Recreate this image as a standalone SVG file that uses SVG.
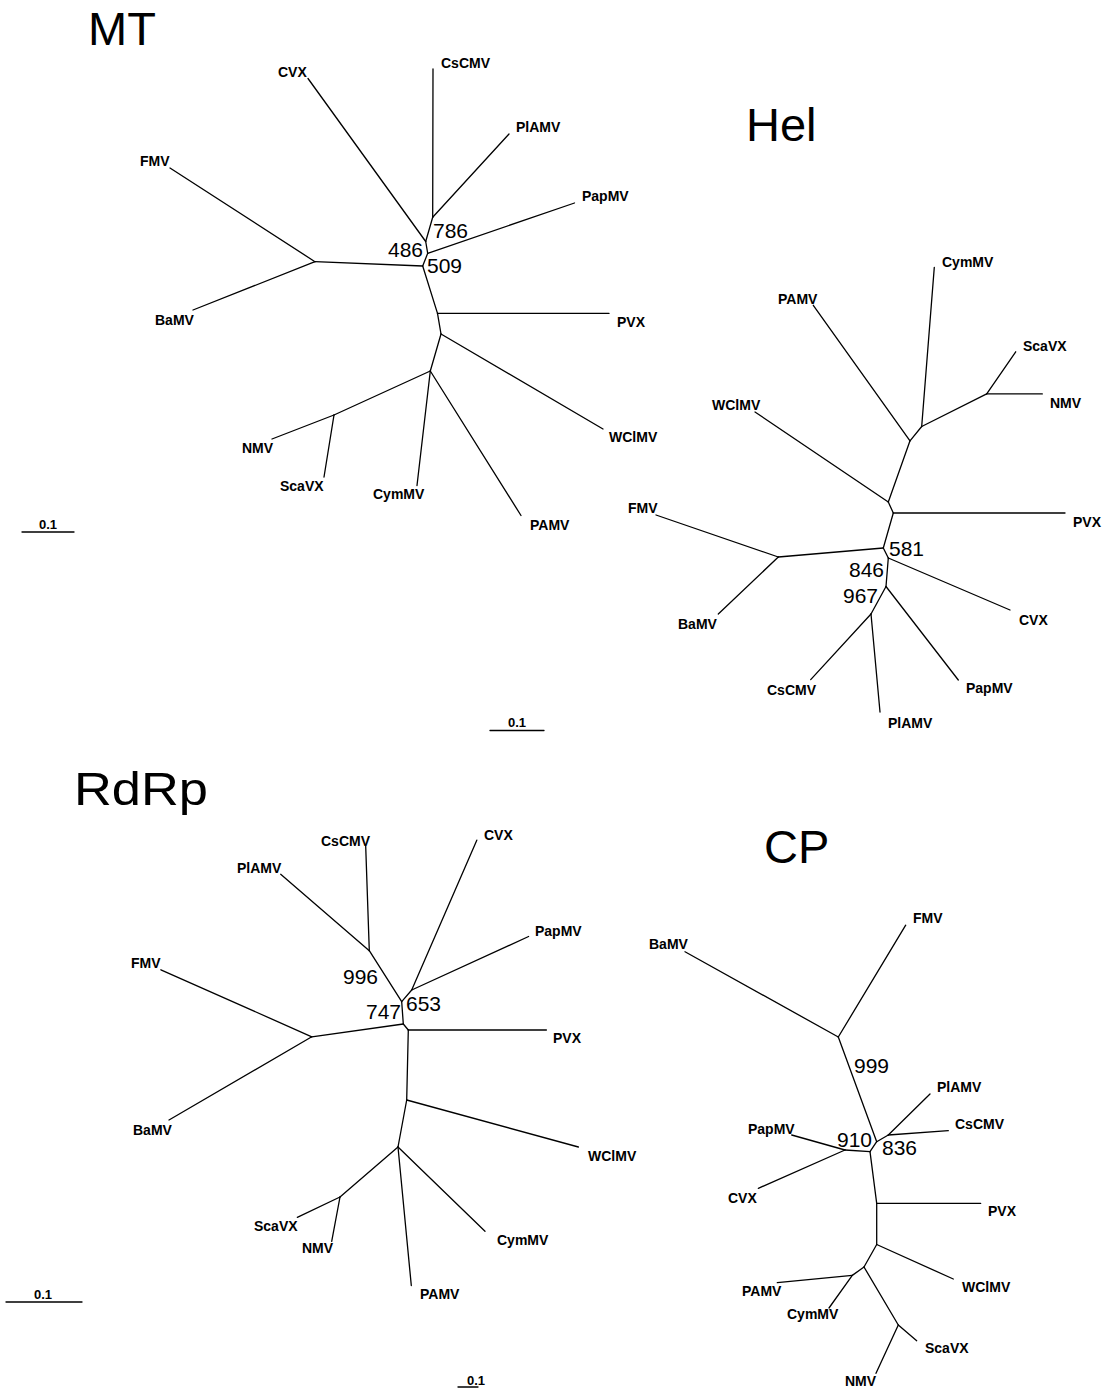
<svg xmlns="http://www.w3.org/2000/svg" width="1107" height="1389" viewBox="0 0 1107 1389">
<style>
text{font-family:"Liberation Sans",Arial,Helvetica,sans-serif;fill:#000}
.leaf{font-weight:bold;font-size:14px}
.boot{font-size:21px}
.title{font-size:47px}
.sc{font-weight:bold;font-size:13px;text-anchor:middle}
.edges line,.bar{stroke:#000;stroke-width:1.3;stroke-linecap:round;fill:none}
</style>
<rect width="1107" height="1389" fill="#fff"/>

<!-- MT tree -->
<g id="tree-MT">
<text class="title" x="88" y="45">MT</text>
<g class="edges" id="MT-connectors">
<line x1="433" y1="69" x2="432.7" y2="217.3"/>
<line x1="509" y1="134" x2="432.7" y2="217.3"/>
<line x1="432.7" y1="217.3" x2="425.7" y2="241.5"/>
<line x1="308" y1="78.5" x2="425.7" y2="241.5"/>
<line x1="425.7" y1="241.5" x2="427.7" y2="253.3"/>
<line x1="574.5" y1="203" x2="427.7" y2="253.3"/>
<line x1="427.7" y1="253.3" x2="422.7" y2="266"/>
<line x1="422.7" y1="266" x2="315" y2="261.7"/>
<line x1="170" y1="168" x2="315" y2="261.7"/>
<line x1="193" y1="310" x2="315" y2="261.7"/>
<line x1="422.7" y1="266" x2="437.5" y2="313.4"/>
<line x1="437.5" y1="313.4" x2="609" y2="313.4"/>
<line x1="437.5" y1="313.4" x2="441" y2="334"/>
<line x1="441" y1="334" x2="603" y2="429"/>
<line x1="441" y1="334" x2="430.3" y2="371"/>
<line x1="430.3" y1="371" x2="417" y2="485.5"/>
<line x1="430.3" y1="371" x2="521" y2="515.5"/>
<line x1="430.3" y1="371" x2="334" y2="415"/>
<line x1="334" y1="415" x2="272" y2="439"/>
<line x1="334" y1="415" x2="324" y2="477"/>
</g>
<g id="MT-CVX"><text class="leaf" x="278" y="77">CVX</text></g>
<g id="MT-CsCMV"><text class="leaf" x="441" y="68">CsCMV</text></g>
<g id="MT-PlAMV"><text class="leaf" x="516" y="132">PlAMV</text></g>
<g id="MT-PapMV"><text class="leaf" x="582" y="201">PapMV</text></g>
<g id="MT-FMV"><text class="leaf" x="140" y="166">FMV</text></g>
<g id="MT-BaMV"><text class="leaf" x="155" y="325">BaMV</text></g>
<g id="MT-PVX"><text class="leaf" x="617" y="327">PVX</text></g>
<g id="MT-WCIMV"><text class="leaf" x="609" y="442">WClMV</text></g>
<g id="MT-PAMV"><text class="leaf" x="530" y="530">PAMV</text></g>
<g id="MT-CymMV"><text class="leaf" x="373" y="499">CymMV</text></g>
<g id="MT-ScaVX"><text class="leaf" x="280" y="491">ScaVX</text></g>
<g id="MT-NMV"><text class="leaf" x="242" y="453">NMV</text></g>
<text class="boot" x="433" y="238">786</text>
<text class="boot" x="388" y="257">486</text>
<text class="boot" x="427" y="272.5">509</text>
<g id="MT-scale"><line class="bar" x1="22" y1="532" x2="74" y2="532"/><text class="sc" x="48" y="529">0.1</text></g>
</g>

<!-- Hel tree -->
<g id="tree-Hel">
<text class="title" x="746" y="141">Hel</text>
<g class="edges" id="Hel-connectors">
<line x1="934.3" y1="267.3" x2="921.7" y2="426.5"/>
<line x1="986.7" y1="393.9" x2="921.7" y2="426.5"/>
<line x1="1015.7" y1="351.8" x2="986.7" y2="393.9"/>
<line x1="1042.3" y1="393.9" x2="986.7" y2="393.9"/>
<line x1="921.7" y1="426.5" x2="910" y2="440.8"/>
<line x1="813.3" y1="305.3" x2="910" y2="440.8"/>
<line x1="910" y1="440.8" x2="888.3" y2="502"/>
<line x1="755" y1="412" x2="888.3" y2="502"/>
<line x1="888.3" y1="502" x2="893.3" y2="513"/>
<line x1="893.3" y1="513" x2="1065" y2="513"/>
<line x1="893.3" y1="513" x2="883.3" y2="548"/>
<line x1="883.3" y1="548" x2="778.3" y2="557"/>
<line x1="656" y1="515" x2="778.3" y2="557"/>
<line x1="718.3" y1="614" x2="778.3" y2="557"/>
<line x1="883.3" y1="548" x2="888.3" y2="558"/>
<line x1="888.3" y1="558" x2="1010" y2="610"/>
<line x1="888.3" y1="558" x2="886" y2="586.5"/>
<line x1="886" y1="586.5" x2="958.3" y2="680"/>
<line x1="886" y1="586.5" x2="871" y2="614"/>
<line x1="871" y1="614" x2="810.7" y2="679.6"/>
<line x1="871" y1="614" x2="880" y2="712"/>
</g>
<g id="Hel-CymMV"><text class="leaf" x="942" y="267">CymMV</text></g>
<g id="Hel-PAMV"><text class="leaf" x="778" y="304">PAMV</text></g>
<g id="Hel-ScaVX"><text class="leaf" x="1023" y="351">ScaVX</text></g>
<g id="Hel-NMV"><text class="leaf" x="1050" y="408">NMV</text></g>
<g id="Hel-WCIMV"><text class="leaf" x="712" y="410">WClMV</text></g>
<g id="Hel-PVX"><text class="leaf" x="1073" y="527">PVX</text></g>
<g id="Hel-FMV"><text class="leaf" x="628" y="513">FMV</text></g>
<g id="Hel-BaMV"><text class="leaf" x="678" y="629">BaMV</text></g>
<g id="Hel-CVX"><text class="leaf" x="1019" y="625">CVX</text></g>
<g id="Hel-PapMV"><text class="leaf" x="966" y="693">PapMV</text></g>
<g id="Hel-CsCMV"><text class="leaf" x="767" y="695">CsCMV</text></g>
<g id="Hel-PlAMV"><text class="leaf" x="888" y="728">PlAMV</text></g>
<text class="boot" x="889" y="556">581</text>
<text class="boot" x="849" y="577">846</text>
<text class="boot" x="843" y="603">967</text>
<g id="Hel-scale"><line class="bar" x1="490" y1="730.5" x2="544" y2="730.5"/><text class="sc" x="517" y="727">0.1</text></g>
</g>

<!-- RdRp tree -->
<g id="tree-RdRp">
<text class="title" x="74" y="805" textLength="134" lengthAdjust="spacingAndGlyphs">RdRp</text>
<g class="edges" id="RdRp-connectors">
<line x1="365.7" y1="846.2" x2="369.3" y2="950.7"/>
<line x1="280.7" y1="874.3" x2="369.3" y2="950.7"/>
<line x1="369.3" y1="950.7" x2="401.7" y2="1001.7"/>
<line x1="476.8" y1="840.2" x2="411.7" y2="990"/>
<line x1="528.6" y1="936.5" x2="411.7" y2="990"/>
<line x1="411.7" y1="990" x2="401.7" y2="1001.7"/>
<line x1="401.7" y1="1001.7" x2="403.3" y2="1024"/>
<line x1="403.3" y1="1024" x2="311.8" y2="1036.8"/>
<line x1="160.9" y1="969.8" x2="311.8" y2="1036.8"/>
<line x1="169" y1="1120" x2="311.8" y2="1036.8"/>
<line x1="403.3" y1="1024" x2="408.3" y2="1030"/>
<line x1="408.3" y1="1030" x2="546.4" y2="1030"/>
<line x1="408.3" y1="1030" x2="406.7" y2="1100"/>
<line x1="406.7" y1="1100" x2="578.4" y2="1147"/>
<line x1="406.7" y1="1100" x2="398" y2="1147"/>
<line x1="398" y1="1147" x2="340" y2="1197"/>
<line x1="340" y1="1197" x2="297.3" y2="1217.3"/>
<line x1="340" y1="1197" x2="331.7" y2="1241.3"/>
<line x1="398" y1="1147" x2="411.3" y2="1285.5"/>
<line x1="398" y1="1147" x2="485" y2="1231.3"/>
</g>
<g id="RdRp-CsCMV"><text class="leaf" x="321" y="846">CsCMV</text></g>
<g id="RdRp-PlAMV"><text class="leaf" x="237" y="873">PlAMV</text></g>
<g id="RdRp-CVX"><text class="leaf" x="484" y="840">CVX</text></g>
<g id="RdRp-PapMV"><text class="leaf" x="535" y="936">PapMV</text></g>
<g id="RdRp-FMV"><text class="leaf" x="131" y="968">FMV</text></g>
<g id="RdRp-BaMV"><text class="leaf" x="133" y="1135">BaMV</text></g>
<g id="RdRp-PVX"><text class="leaf" x="553" y="1043">PVX</text></g>
<g id="RdRp-WCIMV"><text class="leaf" x="588" y="1161">WClMV</text></g>
<g id="RdRp-ScaVX"><text class="leaf" x="254" y="1231">ScaVX</text></g>
<g id="RdRp-NMV"><text class="leaf" x="302" y="1253">NMV</text></g>
<g id="RdRp-CymMV"><text class="leaf" x="497" y="1245">CymMV</text></g>
<g id="RdRp-PAMV"><text class="leaf" x="420" y="1299">PAMV</text></g>
<text class="boot" x="343" y="984">996</text>
<text class="boot" x="366" y="1019">747</text>
<text class="boot" x="406" y="1011">653</text>
<g id="RdRp-scale"><line class="bar" x1="6" y1="1302" x2="82" y2="1302"/><text class="sc" x="43" y="1299">0.1</text></g>
</g>

<!-- CP tree -->
<g id="tree-CP">
<text class="title" x="764" y="863">CP</text>
<g class="edges" id="CP-connectors">
<line x1="905.7" y1="925.2" x2="838.3" y2="1037"/>
<line x1="685" y1="951.7" x2="838.3" y2="1037"/>
<line x1="838.3" y1="1037" x2="876.7" y2="1141.7"/>
<line x1="876.7" y1="1141.7" x2="888.3" y2="1135"/>
<line x1="930" y1="1094" x2="888.3" y2="1135"/>
<line x1="948.3" y1="1130.7" x2="888.3" y2="1135"/>
<line x1="876.7" y1="1141.7" x2="870" y2="1151.7"/>
<line x1="870" y1="1151.7" x2="845" y2="1150"/>
<line x1="791.7" y1="1135" x2="845" y2="1150"/>
<line x1="758.3" y1="1188.3" x2="845" y2="1150"/>
<line x1="870" y1="1151.7" x2="876.7" y2="1203.3"/>
<line x1="876.7" y1="1203.3" x2="980.7" y2="1203.3"/>
<line x1="876.7" y1="1203.3" x2="876.7" y2="1244.5"/>
<line x1="876.7" y1="1244.5" x2="953.3" y2="1279"/>
<line x1="876.7" y1="1244.5" x2="864" y2="1267"/>
<line x1="864" y1="1267" x2="852.3" y2="1275.4"/>
<line x1="777.3" y1="1282.6" x2="852.3" y2="1275.4"/>
<line x1="829" y1="1308" x2="852.3" y2="1275.4"/>
<line x1="864" y1="1267" x2="898.3" y2="1325"/>
<line x1="898.3" y1="1325" x2="916.7" y2="1340.7"/>
<line x1="898.3" y1="1325" x2="876" y2="1373.3"/>
</g>
<g id="CP-FMV"><text class="leaf" x="913" y="923">FMV</text></g>
<g id="CP-BaMV"><text class="leaf" x="649" y="949">BaMV</text></g>
<g id="CP-PlAMV"><text class="leaf" x="937" y="1092">PlAMV</text></g>
<g id="CP-CsCMV"><text class="leaf" x="955" y="1129">CsCMV</text></g>
<g id="CP-PapMV"><text class="leaf" x="748" y="1134">PapMV</text></g>
<g id="CP-CVX"><text class="leaf" x="728" y="1203">CVX</text></g>
<g id="CP-PVX"><text class="leaf" x="988" y="1216">PVX</text></g>
<g id="CP-WCIMV"><text class="leaf" x="962" y="1292">WClMV</text></g>
<g id="CP-PAMV"><text class="leaf" x="742" y="1296">PAMV</text></g>
<g id="CP-CymMV"><text class="leaf" x="787" y="1319">CymMV</text></g>
<g id="CP-ScaVX"><text class="leaf" x="925" y="1353">ScaVX</text></g>
<g id="CP-NMV"><text class="leaf" x="845" y="1386">NMV</text></g>
<text class="boot" x="854" y="1073">999</text>
<text class="boot" x="837" y="1147">910</text>
<text class="boot" x="882" y="1155">836</text>
<g id="CP-scale"><line class="bar" x1="458" y1="1387" x2="478" y2="1387"/><text class="sc" x="476" y="1385">0.1</text></g>
</g>
</svg>
